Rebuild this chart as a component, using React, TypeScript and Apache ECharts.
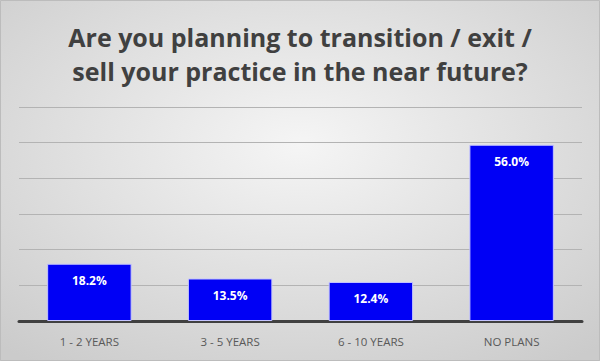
import React, { useEffect, useRef } from "react";
import * as echarts from "echarts";

const titleLines = ["Are you planning to transition / exit /", "sell your practice in the near future?"];
const categories = ["1 - 2 YEARS", "3 - 5 YEARS", "6 - 10 YEARS", "NO PLANS"];
const values = [18.2, 13.5, 12.4, 56.0];
const yMax = 68;
const ySplits = 6;

export default function App() {
  const ref = useRef<HTMLDivElement>(null);
  useEffect(() => {
    if (!ref.current) return;
    const chart = echarts.init(ref.current, null, { renderer: "svg" });
    chart.setOption({
      animation: false,
      backgroundColor: {
        type: "radial",
        x: 0.5,
        y: 0.4,
        r: 0.75,
        colorStops: [
          { offset: 0, color: "#f5f5f5" },
          { offset: 1, color: "#cbcbcb" },
        ],
      },
      title: {
        text: titleLines.join("\n"),
        left: "center",
        top: 15,
        textStyle: {
          fontFamily: "Open Sans",
          fontWeight: "bold",
          fontSize: 25,
          lineHeight: 34,
          color: "#404040",
        },
      },
      graphic: [
        {
          type: "rect",
          shape: { x: 0.5, y: 0.5, width: 599, height: 360 },
          style: { fill: "none", stroke: "#bcbcbc", lineWidth: 1 },
          silent: true,
        },
      ],
      grid: { left: 19, right: 18, top: 107, bottom: 40, containLabel: false },
      xAxis: {
        type: "category",
        data: categories,
        axisLine: { lineStyle: { color: "#404040", width: 3 } },
        axisTick: { show: false },
        axisLabel: {
          color: "#595959",
          fontFamily: "Open Sans",
          fontSize: 11.5,
          margin: 14,
        },
      },
      yAxis: {
        type: "value",
        min: 0,
        max: yMax,
        interval: yMax / ySplits,
        axisLabel: { show: false },
        axisLine: { show: false },
        axisTick: { show: false },
        splitLine: { lineStyle: { color: "#b3b3b3", width: 1 } },
      },
      series: [
        {
          type: "bar",
          data: values,
          barWidth: "60%",
          itemStyle: { color: "#0000f5", borderColor: "#c4c4ff", borderWidth: 1 },
          label: {
            show: true,
            position: "insideTop",
            distance: 11,
            formatter: (p: any) => p.value.toFixed(1) + "%",
            color: "#ffffff",
            fontFamily: "Open Sans",
            fontWeight: "bold",
            fontSize: 12,
          },
        },
      ],
    });
    return () => chart.dispose();
  }, []);
  return (
    <div
      ref={ref}
      style={{ position: "absolute", left: 0, top: 0, width: 600, height: 361 }}
    />
  );
}
